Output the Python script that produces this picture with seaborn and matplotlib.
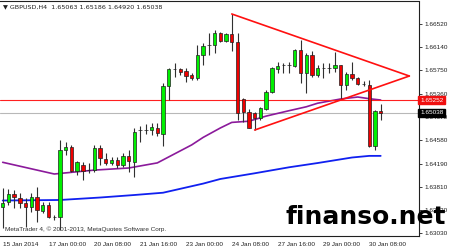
import matplotlib
matplotlib.use("Agg")
import matplotlib.pyplot as plt
import matplotlib.transforms as mtransforms
import numpy as np
import pandas as pd
import seaborn as sns

# ---------------- data (GBPUSD H4) ----------------
opens = [1.63470, 1.63553, 1.63687, 1.63620, 1.63537, 1.63470, 1.63637, 1.63403, 1.63503, 1.63305,
         1.63303, 1.64420, 1.64470, 1.64070, 1.64170, 1.64090, 1.64087, 1.64453, 1.64270, 1.64203,
         1.64253, 1.64170, 1.64320, 1.64220, 1.64750, 1.64753, 1.64753, 1.64787, 1.64687, 1.65487,
         1.65770, 1.65770, 1.65737, 1.65670, 1.65620, 1.66003, 1.66170, 1.66170, 1.66370, 1.66237,
         1.66353, 1.66220, 1.65270, 1.65053, 1.65037, 1.64953, 1.65103, 1.65387, 1.65770, 1.65837,
         1.65833, 1.65820, 1.66087, 1.65703, 1.66003, 1.65670, 1.65787, 1.65783, 1.65787, 1.65837,
         1.65503, 1.65687, 1.65620, 1.65520, 1.65503, 1.64487, 1.65063]
highs = [1.63787, 1.63770, 1.63753, 1.63703, 1.63620, 1.63703, 1.63803, 1.63553, 1.63553, 1.63337,
         1.64587, 1.64553, 1.64503, 1.64230, 1.64220, 1.64203, 1.64503, 1.64503, 1.64370, 1.64303,
         1.64303, 1.64370, 1.64420, 1.64787, 1.64820, 1.64853, 1.64870, 1.64870, 1.65537, 1.65787,
         1.65870, 1.65787, 1.65787, 1.65703, 1.66170, 1.66203, 1.66370, 1.66420, 1.66387, 1.66370,
         1.66687, 1.66370, 1.65287, 1.65103, 1.65053, 1.65137, 1.65420, 1.65803, 1.65887, 1.65870,
         1.65887, 1.66103, 1.66253, 1.66037, 1.66070, 1.65837, 1.65870, 1.65870, 1.66053, 1.65840,
         1.65720, 1.65887, 1.65637, 1.65570, 1.65587, 1.65087, 1.65186]
lows = [1.63120, 1.63503, 1.63453, 1.63453, 1.63137, 1.63387, 1.63220, 1.63370, 1.63287, 1.63253,
        1.63087, 1.64337, 1.64053, 1.64003, 1.63920, 1.64037, 1.64053, 1.64170, 1.64170, 1.64170,
        1.64120, 1.64137, 1.64053, 1.63970, 1.64553, 1.64687, 1.64670, 1.64653, 1.64487, 1.65253,
        1.65637, 1.65670, 1.65553, 1.65587, 1.65587, 1.65837, 1.66003, 1.66037, 1.66220, 1.66220,
        1.66070, 1.64920, 1.64887, 1.64780, 1.64753, 1.64920, 1.65087, 1.65370, 1.65703, 1.65703,
        1.65703, 1.65803, 1.65537, 1.65370, 1.65637, 1.65637, 1.65620, 1.65703, 1.65720, 1.65270,
        1.65420, 1.65587, 1.65503, 1.65487, 1.64470, 1.64420, 1.64920]
closes = [1.63537, 1.63687, 1.63637, 1.63537, 1.63470, 1.63637, 1.63420, 1.63503, 1.63303, 1.63300,
          1.64420, 1.64470, 1.64070, 1.64220, 1.64070, 1.64087, 1.64453, 1.64287, 1.64203, 1.64253,
          1.64170, 1.64320, 1.64237, 1.64720, 1.64753, 1.64750, 1.64803, 1.64703, 1.65487, 1.65770,
          1.65767, 1.65720, 1.65653, 1.65620, 1.66003, 1.66153, 1.66167, 1.66370, 1.66237, 1.66353,
          1.66220, 1.65037, 1.65053, 1.64787, 1.64953, 1.65120, 1.65387, 1.65787, 1.65820, 1.65833,
          1.65837, 1.66087, 1.65703, 1.66003, 1.65670, 1.65787, 1.65783, 1.65787, 1.65837, 1.65503,
          1.65687, 1.65620, 1.65520, 1.65517, 1.64487, 1.65070, 1.65038]

# moving averages (bar index, price)
ma_slow_idx = [0, 9, 16, 22, 27, 33, 35, 38, 40, 43, 46, 50, 53, 55, 59, 62, 64, 66]
ma_slow_val = [1.64215, 1.64020, 1.64085, 1.64120, 1.64205, 1.64505, 1.64630, 1.64787, 1.64880,
               1.64900, 1.64985, 1.65075, 1.65140, 1.65200, 1.65270, 1.65303, 1.65275, 1.65253]
ma_long_idx = [0, 10, 17, 23, 28, 35, 38, 44, 50, 55, 61, 64, 66]
ma_long_val = [1.63578, 1.63587, 1.63628, 1.63670, 1.63708, 1.63860, 1.63937, 1.64032, 1.64132,
               1.64203, 1.64295, 1.64322, 1.64322]

# triangle trend lines (bar index, price)
tri_upper_idx = [40, 71]
tri_upper_val = [1.66687, 1.65653]
tri_lower_idx = [44, 71]
tri_lower_val = [1.64753, 1.65653]

level_line = 1.65252
bid_price = 1.65038

price_ticks = [1.66520, 1.66140, 1.65750, 1.65360, 1.64970, 1.64580, 1.64190, 1.63810, 1.63420, 1.63030]
date_tick_idx = [0, 8, 16, 24, 32, 40, 48, 56, 64]
date_tick_labels = ["15 Jan 2014", "17 Jan 00:00", "20 Jan 08:00", "21 Jan 16:00", "23 Jan 00:00",
                    "24 Jan 08:00", "27 Jan 16:00", "29 Jan 00:00", "30 Jan 08:00"]

header = "\u25BC GBPUSD,H4  1.65063 1.65186 1.64920 1.65038"
copyright_txt = "MetaTrader 4, \u00A9 2001-2013, MetaQuotes Software Corp."
watermark = "finanso.net"

# ---------------- drawing ----------------
sns.set_style("white")
plt.rcParams["font.family"] = ["Liberation Sans", "DejaVu Sans"]

W, H = 450, 250
fig = plt.figure(figsize=(W / 100, H / 100), dpi=100)
fig.patch.set_facecolor("white")

ax_l, ax_r, ax_t, ax_b = 0.0, 419.0, 1.5, 235.5
ax = fig.add_axes([ax_l / W, 1 - ax_b / H, (ax_r - ax_l) / W, (ax_b - ax_t) / H])
ax.set_facecolor("white")

n = len(opens)
idx = np.arange(n)
df = pd.DataFrame({"i": idx, "o": opens, "h": highs, "l": lows, "c": closes})

# wicks
ax.vlines(df["i"], df["l"], df["h"], color="#303030", lw=0.8, zorder=3)
# bodies
bull = df["c"] >= df["o"]
body_b = np.minimum(df["o"], df["c"])
body_h = np.maximum(np.abs(df["c"] - df["o"]), 0.00002)
colors = np.where(bull, "#00F000", "#F00000")
ax.bar(df["i"], body_h, bottom=body_b, width=0.58, color=colors, edgecolor="#202020",
       linewidth=0.5, zorder=4)

# moving averages
sns.lineplot(x=ma_slow_idx, y=ma_slow_val, ax=ax, color="#8B1A9B", lw=1.2, zorder=2)
sns.lineplot(x=ma_long_idx, y=ma_long_val, ax=ax, color="#1020F0", lw=1.3, zorder=2)

# horizontal lines
ax.axhline(level_line, color="#FF2020", lw=0.8, zorder=2)
ax.axhline(bid_price, color="#B8B8B8", lw=0.8, zorder=1)

# triangle
sns.lineplot(x=tri_upper_idx, y=tri_upper_val, ax=ax, color="#FF1010", lw=1.2, zorder=5)
sns.lineplot(x=tri_lower_idx, y=tri_lower_val, ax=ax, color="#FF1010", lw=1.2, zorder=5)

# scales
px_per_bar = 5.727
x0_px = 2.7
ax.set_xlim((ax_l - x0_px) / px_per_bar, (ax_r - x0_px) / px_per_bar)
ax.set_ylim(1.66920 - ax_b / 6000, 1.66920 - ax_t / 6000)

# axes styling
for s in ["top", "right", "bottom"]:
    ax.spines[s].set_color("#202020")
    ax.spines[s].set_linewidth(0.8)
ax.spines["left"].set_visible(False)

ax.yaxis.tick_right()
ax.set_yticks(price_ticks)
ax.set_yticklabels([f"{v:.5f}" for v in price_ticks])
ax.tick_params(axis="y", which="both", right=True, left=False, direction="out", length=2.5,
               width=0.6, pad=1.5, labelsize=4.6, colors="#202020")
ax.set_xticks(date_tick_idx)
ax.set_xticklabels(date_tick_labels, ha="left")
ax.tick_params(axis="x", direction="out", length=3, width=0.6, pad=1.5, labelsize=4.6,
               colors="#202020")
for lbl in ax.get_xticklabels():
    lbl.set_horizontalalignment("left")
ax.set_xlabel("")
ax.set_ylabel("")
ax.grid(False)

# price labels on right axis
trans = mtransforms.blended_transform_factory(ax.transAxes, ax.transData)
ax.text(1.0025, level_line, f"{level_line:.5f}", transform=trans, ha="left", va="center",
        fontsize=4.6, color="white", zorder=10,
        bbox=dict(boxstyle="square,pad=0.25", fc="#F01010", ec="#F01010"))
ax.text(1.0025, bid_price, f"{bid_price:.5f}", transform=trans, ha="left", va="center",
        fontsize=4.6, color="white", zorder=10,
        bbox=dict(boxstyle="square,pad=0.25", fc="black", ec="black"))

# header and copyright
fig.text(3 / W, 1 - 7 / H, header, ha="left", va="center", fontsize=4.6, color="#202020",
         family=["DejaVu Sans"])
fig.text(5 / W, 1 - 229 / H, copyright_txt, ha="left", va="center", fontsize=4.6, color="#303030")

# watermark
fig.text(446 / W, 1 - 224 / H, watermark, ha="right", va="baseline", fontsize=18,
         fontweight="bold", color="black", family=["DejaVu Sans"], zorder=20)

fig.savefig("out.png", dpi=100, facecolor="white")
